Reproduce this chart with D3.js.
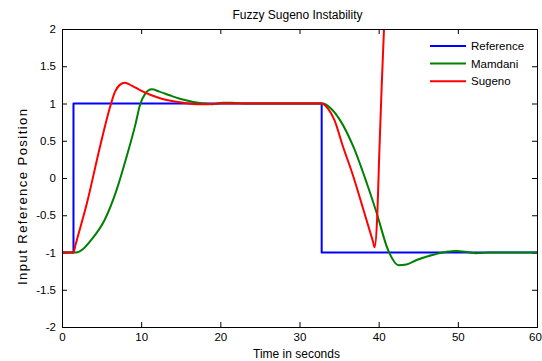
<!DOCTYPE html>
<html><head><meta charset="utf-8">
<script src="https://cdn.jsdelivr.net/npm/d3@7"></script>
<style>body{margin:0;background:#fff;} text{font-family:"Liberation Sans",Arial,sans-serif;}</style>
</head><body>
<script>
const xTicks = [0,10,20,30,40,50,60];
const yTicks = [-2,-1.5,-1,-0.5,0,0.5,1,1.5,2];
const seriesNames = ["Reference","Mamdani","Sugeno"];
const seriesColors = ["#0000ff","#008000","#ff0000"];

const refT = [0,1.45,1.45,32.8,32.8,60];
const refV = [-1,-1,1,1,-1,-1];

const mamT = [0,1.5,1.8,2.7,3.7,5.4,6.9,8.17,9.3,9.85,10.5,11.33,12.3,13.6,15,16.6,17.85,19,20.3,21.5,23,26,30,32.9,34,35.1,36.8,38.5,39.75,41.2,42.5,43.5,44.8,46.9,48.6,49.8,51,52.3,54,57,60];
const mamV = [-1,-1,-1,-0.95,-0.83,-0.56,-0.16,0.29,0.73,0.98,1.13,1.19,1.16,1.11,1.06,1.02,1.0,0.99,1.01,1.01,1.0,1.0,1.0,1.0,0.93,0.78,0.42,-0.07,-0.47,-0.97,-1.17,-1.16,-1.1,-1.03,-0.99,-0.98,-0.99,-1.01,-1.0,-1.0,-1.0];

const sugT = [0,1.45,1.7,3.12,4.8,6.06,6.7,7.3,7.96,8.8,9.85,11.3,12.4,14.06,15.7,17,18.5,20,22,25,30,32.8,33.6,34.4,35.5,36.8,38.0,39.3,39.5,39.8,40.08,40.38,40.67,41.2];
const sugV = [-1,-1,-0.9,-0.35,0.42,0.95,1.16,1.25,1.28,1.24,1.18,1.11,1.07,1.03,1.003,0.99,0.99,1.0,1.0,1.0,1.0,1.0,0.93,0.78,0.42,0.02,-0.4,-0.86,-0.93,-0.56,0.33,1.23,1.99,3.0];

const W = 542, H = 361;
const m = {left:62, right:5, top:29, bottom:34};
const svg = d3.select("body").append("svg").attr("width",W).attr("height",H);
const x = d3.scaleLinear().domain([0,60]).range([m.left, W-m.right]);
const y = d3.scaleLinear().domain([-2,2]).range([H-m.bottom, m.top]);

svg.append("defs").append("clipPath").attr("id","clip").append("rect")
  .attr("x",x(0)).attr("y",y(2)).attr("width",x(60)-x(0)).attr("height",y(-2)-y(2));

const tl = 5;
const gB = svg.append("g").attr("transform",`translate(0,${y(-2)})`)
  .call(d3.axisBottom(x).tickValues(xTicks).tickSizeInner(-tl).tickSizeOuter(0).tickPadding(6).tickFormat(d3.format("d")));
const gT = svg.append("g").attr("transform",`translate(0,${y(2)})`)
  .call(d3.axisTop(x).tickValues(xTicks).tickSizeInner(-tl).tickSizeOuter(0).tickFormat(""));
const gL = svg.append("g").attr("transform",`translate(${x(0)},0)`)
  .call(d3.axisLeft(y).tickValues(yTicks).tickSizeInner(-tl).tickSizeOuter(0).tickPadding(6).tickFormat(d=>String(d)));
const gR = svg.append("g").attr("transform",`translate(${x(60)},0)`)
  .call(d3.axisRight(y).tickValues(yTicks).tickSizeInner(-tl).tickSizeOuter(0).tickFormat(""));
[gB,gT,gL,gR].forEach(g=>{
  g.select(".domain").remove();
  g.selectAll("line").attr("stroke","#000");
  g.selectAll("text").attr("font-size",11.5).attr("fill","#000").style("font-family","'Liberation Sans',Arial,sans-serif");
});
gB.selectAll(".tick").filter(d=>d===60).select("text").attr("dx",-2);

const plot = svg.append("g").attr("clip-path","url(#clip)");
const line = d3.line().x(d=>x(d[0])).y(d=>y(d[1]));
const lineS = d3.line().x(d=>x(d[0])).y(d=>y(d[1])).curve(d3.curveMonotoneX);

const series = [
  {pts: d3.zip(refT,refV), gen: line},
  {pts: d3.zip(mamT,mamV), gen: lineS},
  {pts: d3.zip(sugT,sugV), gen: lineS}
];
series.forEach((s,i)=>{
  plot.append("path").attr("d",s.gen(s.pts)).attr("fill","none")
    .attr("stroke",seriesColors[i]).attr("stroke-width",2).attr("stroke-linejoin","round");
});

svg.append("rect").attr("x",x(0)).attr("y",y(2)).attr("width",x(60)-x(0)).attr("height",y(-2)-y(2))
  .attr("fill","none").attr("stroke","#000").attr("stroke-width",1).attr("shape-rendering","crispEdges");

const lg = svg.append("g");
seriesNames.forEach((n,i)=>{
  const yy = 46 + i*17.6;
  lg.append("line").attr("x1",430).attr("x2",466).attr("y1",yy).attr("y2",yy)
    .attr("stroke",seriesColors[i]).attr("stroke-width",2);
  lg.append("text").attr("x",471).attr("y",yy).attr("dy","0.35em").attr("font-size",11.5).text(n);
});

svg.append("text").attr("x",(x(0)+x(60))/2 - 2).attr("y",18.5).attr("text-anchor","middle").attr("font-size",12).text("Fuzzy Sugeno Instability");
svg.append("text").attr("x",(x(0)+x(60))/2 - 3).attr("y",358).attr("text-anchor","middle").attr("font-size",12).text("Time in seconds");
svg.append("text").attr("transform","translate(27,197) rotate(-90)").attr("text-anchor","middle").attr("font-size",13)
  .attr("textLength",176).attr("lengthAdjust","spacing").text("Input Reference Position");
</script>
</body></html>
